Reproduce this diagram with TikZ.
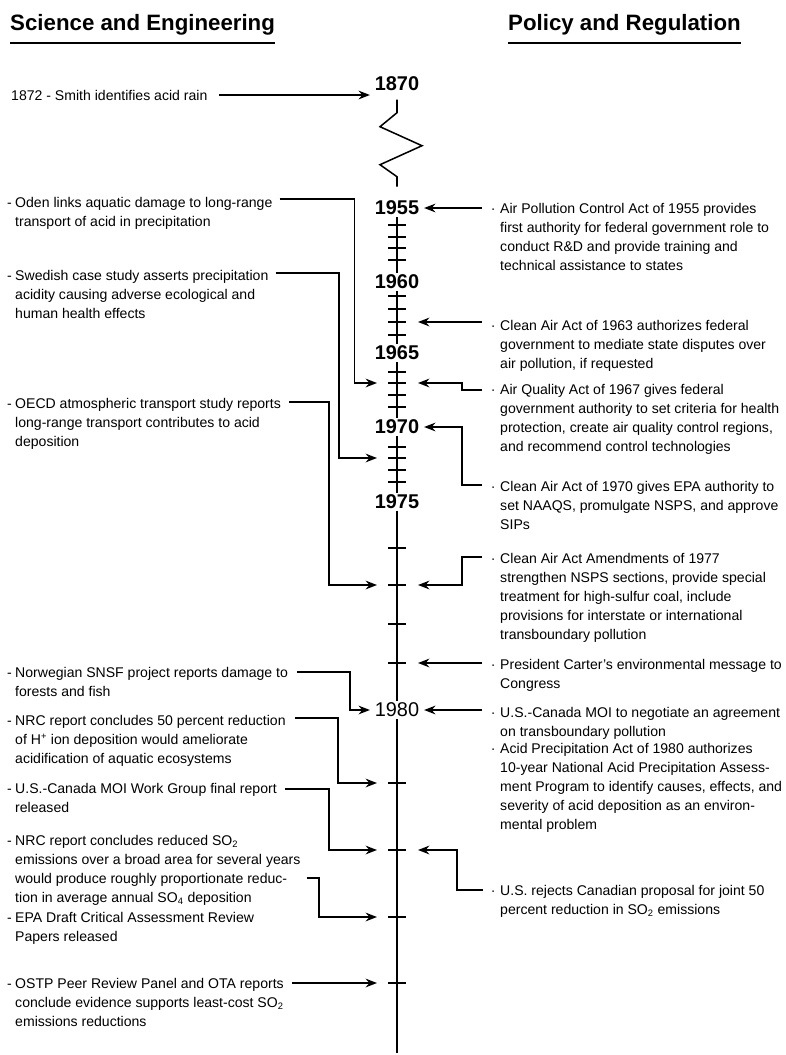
\documentclass[tikz,border=0pt]{standalone}
\usepackage{fontspec}
\setmainfont{Liberation Sans}
\usepackage{tikz}
\usetikzlibrary{arrows.meta, positioning}

\begin{document}
\begin{tikzpicture}[
    x=0.03cm, y=-0.03cm,
    head/.style={font=\fontsize{19}{22}\selectfont\bfseries, inner sep=0},
    yr/.style={font=\fontsize{17}{18}\selectfont\bfseries, inner xsep=4pt, inner ysep=1.5pt},
    event/.style={anchor=north west, align=left, inner sep=0, font=\fontsize{12}{16.2}\selectfont},
    axis/.style={line width=1.3pt},
    tick/.style={line width=1.1pt},
    link/.style={-{Stealth[length=3.4mm, width=2.6mm]}, line width=1.5pt},
]

\useasboundingbox (0,0) rectangle (786,1055);

% headings
\node[head, anchor=base west] (sci) at (10,30) {Science and Engineering};
\node[head, anchor=base west] (pol) at (508,30) {Policy and Regulation};
\draw[line width=2.4pt] ([yshift=-0.39cm]sci.base west) -- ([yshift=-0.39cm]sci.base east);
\draw[line width=2.4pt] ([yshift=-0.39cm]pol.base west) -- ([yshift=-0.39cm]pol.base east);

% time axis
\node[yr] (y1870) at (397,84) {1870};
\node[yr] (y1955) at (397,208) {1955};
\node[yr] (y1960) at (397,282) {1960};
\node[yr] (y1965) at (397,353) {1965};
\node[yr] (y1970) at (397,427) {1970};
\node[yr] (y1975) at (397,502) {1975};
\node[yr, font=\fontsize{17}{18}\selectfont] (y1980) at (397,710) {1980};
\coordinate (axisend) at (397,1053);

\draw[axis] ([yshift=-0.2cm]y1870.south) -- ++(0,13) -- ++(-17,14) -- ++(42,19) -- ++(-42,19) -- ++(17,12) -- ++(0,10);
\foreach \a/\b in {1955/1960,1960/1965,1965/1970,1970/1975,1975/1980}
    \draw[axis] (y\a) -- (y\b);
\draw[axis] (y1980) -- (axisend);

\foreach \yr/\pos in {1956/225,1957/237,1958/248,1959/260,1961/296,1962/309,1963/322,1964/335,
    1966/372,1967/383,1968/395,1969/407,1971/447,1972/458,1973/470,1974/482,
    1976/548,1977/585,1978/624,1979/663,1981/783,1982/850,1983/917,1984/983}{
    \coordinate (k\yr) at (397,\pos);
    \coordinate (l\yr) at (377,\pos);
    \coordinate (r\yr) at (418,\pos);
    \draw[tick] ([xshift=-0.26cm]k\yr) -- ([xshift=0.26cm]k\yr);
}

% science and engineering
\node[event, anchor=west] (smith) at (11,95) {1872 - Smith identifies acid rain};
\node[event] (oden) at (15,197) {\llap{-\hspace{3pt}}Oden links aquatic damage to long-range\\transport of acid in precipitation};
\node[event] (swedish) at (15,270) {\llap{-\hspace{3pt}}Swedish case study asserts precipitation\\acidity causing adverse ecological and\\human health effects};
\node[event] (oecd) at (15,398) {\llap{-\hspace{3pt}}OECD atmospheric transport study reports\\long-range transport contributes to acid\\deposition};
\node[event] (snsf) at (15,667) {\llap{-\hspace{3pt}}Norwegian SNSF project reports damage to\\forests and fish};
\node[event] (nrcion) at (15,715) {\llap{-\hspace{3pt}}NRC report concludes 50 percent reduction\\of H\textsuperscript{+} ion deposition would ameliorate\\acidification of aquatic ecosystems};
\node[event] (workgroup) at (15,783) {\llap{-\hspace{3pt}}U.S.-Canada MOI Work Group final report\\released};
\node[event] (nrcso) at (15,835) {\llap{-\hspace{3pt}}NRC report concludes reduced SO\textsubscript{2}\\emissions over a broad area for several years\\would produce roughly proportionate reduc-\\tion in average annual SO\textsubscript{4} deposition};
\node[event] (epa) at (15,912) {\llap{-\hspace{3pt}}EPA Draft Critical Assessment Review\\Papers released};
\node[event] (ostp) at (15,978) {\llap{-\hspace{3pt}}OSTP Peer Review Panel and OTA reports\\conclude evidence supports least-cost SO\textsubscript{2}\\emissions reductions};

\draw[link] ([xshift=0.33cm]smith.east) -- (smith.east -| y1870.west);
\draw[link] ([shift={(7,2)}]oden.north east) -- ++(75,0) |- (l1967);
\draw[link] ([shift={(7,3)}]swedish.north east) -- ++(63,0) |- (l1972);
\draw[link] ([shift={(8,4)}]oecd.north east) -- ++(40,0) |- (l1977);
\draw[link] ([shift={(9,5)}]snsf.north east) -- ++(53,0) |- (y1980.west);
\draw[link] ([shift={(9,3)}]nrcion.north east) -- ++(43,0) |- (l1981);
\draw[link] ([shift={(8,6)}]workgroup.north east) -- ++(44,0) |- (l1982);
\draw[link] ([shift={(6,43)}]nrcso.north east) -- ++(12,0) |- (l1983);
\draw[link] (l1984 -| ostp.east) ++(8,0) -- (l1984);

% policy and regulation
\node[event] (apca) at (500,203) {\llap{·\hspace{4pt}}Air Pollution Control Act of 1955 provides\\first authority for federal government role to\\conduct R\&D and provide training and\\technical assistance to states};
\node[event] (caa63) at (500,320) {\llap{·\hspace{4pt}}Clean Air Act of 1963 authorizes federal\\government to mediate state disputes over\\air pollution, if requested};
\node[event] (aqa) at (500,384) {\llap{·\hspace{4pt}}Air Quality Act of 1967 gives federal\\government authority to set criteria for health\\protection, create air quality control regions,\\and recommend control technologies};
\node[event] (caa70) at (500,481) {\llap{·\hspace{4pt}}Clean Air Act of 1970 gives EPA authority to\\set NAAQS, promulgate NSPS, and approve\\SIPs};
\node[event] (caaa77) at (500,553) {\llap{·\hspace{4pt}}Clean Air Act Amendments of 1977\\strengthen NSPS sections, provide special\\treatment for high-sulfur coal, include\\provisions for interstate or international\\transboundary pollution};
\node[event] (carter) at (500,659) {\llap{·\hspace{4pt}}President Carter's environmental message to\\Congress};
\node[event] (mou) at (500,707) {\llap{·\hspace{4pt}}U.S.-Canada MOI to negotiate an agreement\\on transboundary pollution};
\node[event] (apa) at (500,743) {\llap{·\hspace{4pt}}Acid Precipitation Act of 1980 authorizes\\10-year National Acid Precipitation Assess-\\ment Program to identify causes, effects, and\\severity of acid deposition as an environ-\\mental problem};
\node[event] (rejects) at (500,885) {\llap{·\hspace{4pt}}U.S. rejects Canadian proposal for joint 50\\percent reduction in SO\textsubscript{2} emissions};

\draw[link] (y1955.east -| apca.west) ++(-18,0) -- (y1955.east);
\draw[link] (r1963 -| caa63.west) ++(-18,0) -- (r1963);
\draw[link] ([shift={(-18,6)}]aqa.north west) -- ++(-20,0) |- (r1967);
\draw[link] ([shift={(-18,4)}]caa70.north west) -- ++(-20,0) |- (y1970.east);
\draw[link] ([shift={(-18,4)}]caaa77.north west) -- ++(-20,0) |- (r1977);
\draw[link] (r1979 -| carter.west) ++(-18,0) -- (r1979);
\draw[link] (y1980.east -| mou.west) ++(-18,0) -- (y1980.east);
\draw[link] ([shift={(-17,5)}]rejects.north west) -- ++(-26,0) |- (r1982);

\end{tikzpicture}
\end{document}
